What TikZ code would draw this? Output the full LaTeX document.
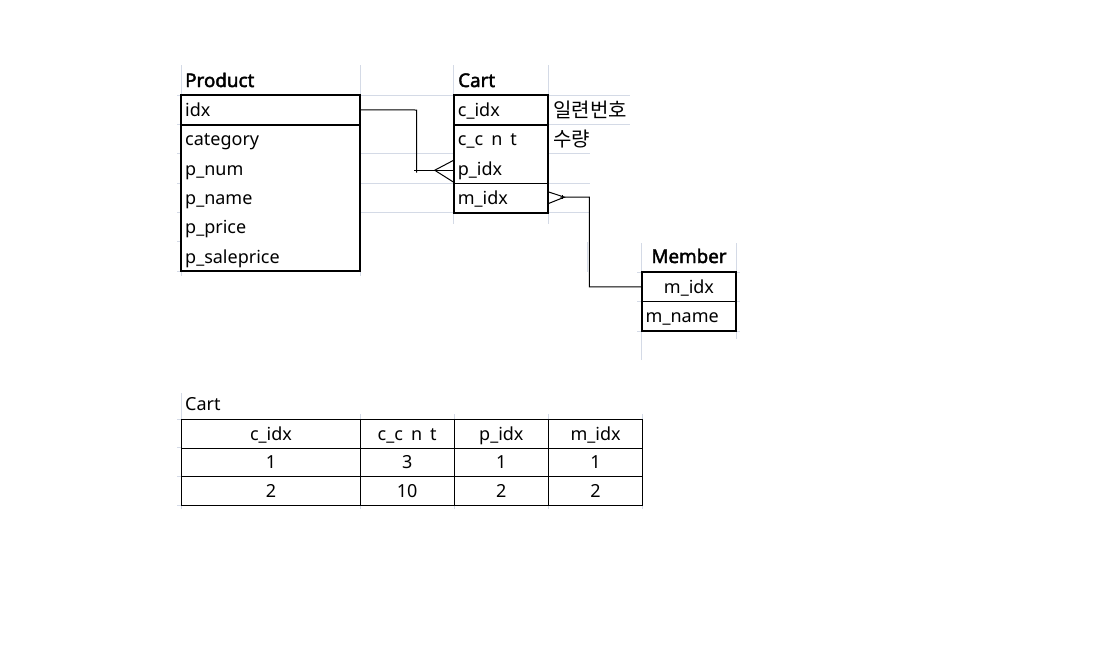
\documentclass[tikz,border=0pt]{standalone}
\usepackage{fontspec}
\setmainfont{Noto Sans}
\newfontfamily\hdrfont{Noto Sans}[FakeBold=2.2]
\newfontfamily\krfont{Noto Sans CJK KR}
\definecolor{gridgray}{RGB}{212,218,230}
\begin{document}
\begin{tikzpicture}[x=1pt,y=-1pt,
  font=\fontsize{18}{21}\selectfont,
  cell/.style={rectangle, inner xsep=4pt, inner ysep=0pt, anchor=north west,
    text height=14pt, text depth=1pt, align=left},
  ccell/.style={cell, align=center},
  thickline/.style={line width=2pt},
  thinline/.style={line width=1pt},
  gridline/.style={draw=gridgray, line width=1pt},
  conn/.style={line width=1pt, draw=black},
  hdr/.style={font=\fontsize{18.8}{21}\selectfont\hdrfont, inner sep=0pt},
  lbl/.style={anchor=base west, inner sep=0pt},
  krlbl/.style={lbl, font=\fontsize{20}{22}\selectfont\krfont}
]
\useasboundingbox[fill=white] (0,0) rectangle (1095,654);

% ---------- spreadsheet grid remnants ----------
\draw[gridline] (181,65) -- (181,95) (360.5,65) -- (360.5,95)
  (453.7,65) -- (453.7,95) (548,65) -- (548,95);
\foreach \y in {95,124.33,153.67,183,212.33,241.67,271}
  \draw[gridline] (177,\y) -- (181,\y);
\draw[gridline] (360,95) -- (453.7,95) (360,153.67) -- (453.7,153.67)
  (360,183) -- (453.7,183) (360,212.33) -- (453.7,212.33);
\draw[gridline] (548,95) -- (630,95) (548,124.33) -- (630,124.33)
  (548,153.67) -- (590,153.67) (548,183) -- (590,183) (548,212.33) -- (590,212.33);
\draw[gridline] (453.7,212.33) -- (453.7,224) (548,212.33) -- (548,224)
  (181,271) -- (181,276) (360.5,271) -- (360.5,276);
\draw[gridline] (587,242) -- (587,272);
\draw[gridline] (641.5,243) -- (641.5,272) (736,243) -- (736,272)
  (641.5,331) -- (641.5,360) (736,331) -- (736,339);
\foreach \y in {272,301.5,331}
  \draw[gridline] (637,\y) -- (641.5,\y) (736,\y) -- (740,\y);
\draw[gridline] (181.5,393) -- (181.5,419);
\foreach \x in {360,454,548.3,642.5}
  \draw[gridline] (\x,414) -- (\x,419) (\x,505) -- (\x,509);
\foreach \y in {419,447.67,476.33,505}
  \draw[gridline] (177,\y) -- (181.5,\y);
\draw[gridline] (181.5,505) -- (181.5,509);

% ---------- Product ----------
\node[hdr, anchor=base west] (ptitle) at (185,87) {Product};
\node[cell, text width=171pt, minimum height=29.33pt] (pidx) at (181,95) {idx};
\node[cell, text width=171pt, minimum height=29.33pt] (pcat) at (181,124.33) {category};
\node[cell, text width=171pt, minimum height=29.33pt] (pnum) at (181,153.67) {p\_num};
\node[cell, text width=171pt, minimum height=29.33pt] (pname) at (181,183) {p\_name};
\node[cell, text width=171pt, minimum height=29.33pt] (pprice) at (181,212.33) {p\_price};
\node[cell, text width=171pt, minimum height=29.33pt] (psale) at (181,241.67) {p\_saleprice};
\draw[thickline] (pidx.north west) rectangle (psale.south east);
\draw[thickline] (pidx.south west) -- (pidx.south east);

% ---------- Cart ----------
\node[hdr, anchor=base west] (ctitle) at (458,87) {Cart};
\node[cell, text width=86.3pt, minimum height=29.33pt] (cidx) at (453.7,95) {c\_idx};
\node[cell, text width=86.3pt, minimum height=29.33pt] (ccnt) at (453.7,124.33) {c\_c\hspace{0.45em}n\hspace{0.45em}t};
\node[cell, text width=86.3pt, minimum height=29.33pt] (cpidx) at (453.7,153.67) {p\_idx};
\node[cell, text width=86.3pt, minimum height=29.33pt] (cmidx) at (453.7,183) {m\_idx};
\draw[thickline] (cidx.north west) rectangle (cmidx.south east);
\draw[thickline] (cidx.south west) -- (cidx.south east);
\draw[thinline] (cpidx.south west) -- (cpidx.south east);
\node[krlbl] (kr1) at (553,117.5) {일련번호};
\node[krlbl] (kr2) at (553,146.5) {수량};

% ---------- Member ----------
\node[hdr, anchor=base] (mtitle) at (689,263) {Member};
\node[ccell, text width=86.5pt, minimum height=29.5pt] (mmidx) at (641.5,272) {m\_idx};
\node[cell, text width=86.5pt, minimum height=29.5pt] (mname) at (641.5,301.5) {m\_name};
\draw[thickline] (mmidx.north west) rectangle (mname.south east);
\draw[thinline] (mmidx.south west) -- (mmidx.south east);

% ---------- connectors ----------
\coordinate (b1) at (416.7,110);
\draw[conn] (pidx.east) -- (b1) -- ++(0,62.5);
\draw[conn] ([xshift=-39.7pt,yshift=-1.7pt]cpidx.west) -- ([yshift=-1.7pt]cpidx.west);
\draw[conn] ([yshift=8.3pt]cpidx.west) -- ([xshift=-19pt,yshift=-1.7pt]cpidx.west)
  -- ([yshift=-13.7pt]cpidx.west);

\coordinate (b2) at (589.3,197);
\draw[conn] ([xshift=12pt,yshift=0.7pt]cmidx.east) -- (b2) |- (mmidx.west);
\draw[conn] ([yshift=6pt]cmidx.east) -- ([xshift=16pt,yshift=0.7pt]cmidx.east)
  -- ([yshift=-5.7pt]cmidx.east);
\draw[conn] ([xshift=14pt,yshift=2.7pt]cmidx.east) -- ([xshift=14pt,yshift=-1.3pt]cmidx.east);

% ---------- bottom table ----------
\node[lbl] (tcap) at (185,410.5) {Cart};
\node[ccell, text width=170.5pt, minimum height=28.67pt] (h1) at (181.5,419) {c\_idx};
\node[ccell, text width=86pt, minimum height=28.67pt] (h2) at (360,419) {c\_c\hspace{0.45em}n\hspace{0.45em}t};
\node[ccell, text width=86.3pt, minimum height=28.67pt] (h3) at (454,419) {p\_idx};
\node[ccell, text width=86.2pt, minimum height=28.67pt] (h4) at (548.3,419) {m\_idx};
\node[ccell, text width=170.5pt, minimum height=28.67pt] (r11) at (181.5,447.67) {1};
\node[ccell, text width=86pt, minimum height=28.67pt] (r12) at (360,447.67) {3};
\node[ccell, text width=86.3pt, minimum height=28.67pt] (r13) at (454,447.67) {1};
\node[ccell, text width=86.2pt, minimum height=28.67pt] (r14) at (548.3,447.67) {1};
\node[ccell, text width=170.5pt, minimum height=28.67pt] (r21) at (181.5,476.33) {2};
\node[ccell, text width=86pt, minimum height=28.67pt] (r22) at (360,476.33) {10};
\node[ccell, text width=86.3pt, minimum height=28.67pt] (r23) at (454,476.33) {2};
\node[ccell, text width=86.2pt, minimum height=28.67pt] (r24) at (548.3,476.33) {2};
\draw[thinline] (h1.north west) rectangle (r24.south east);
\draw[thinline] (h1.south west) -- (h4.south east) (r11.south west) -- (r14.south east);
\draw[thinline] (h1.north east) -- (r21.south east) (h2.north east) -- (r22.south east)
  (h3.north east) -- (r23.south east);
\end{tikzpicture}
\end{document}
